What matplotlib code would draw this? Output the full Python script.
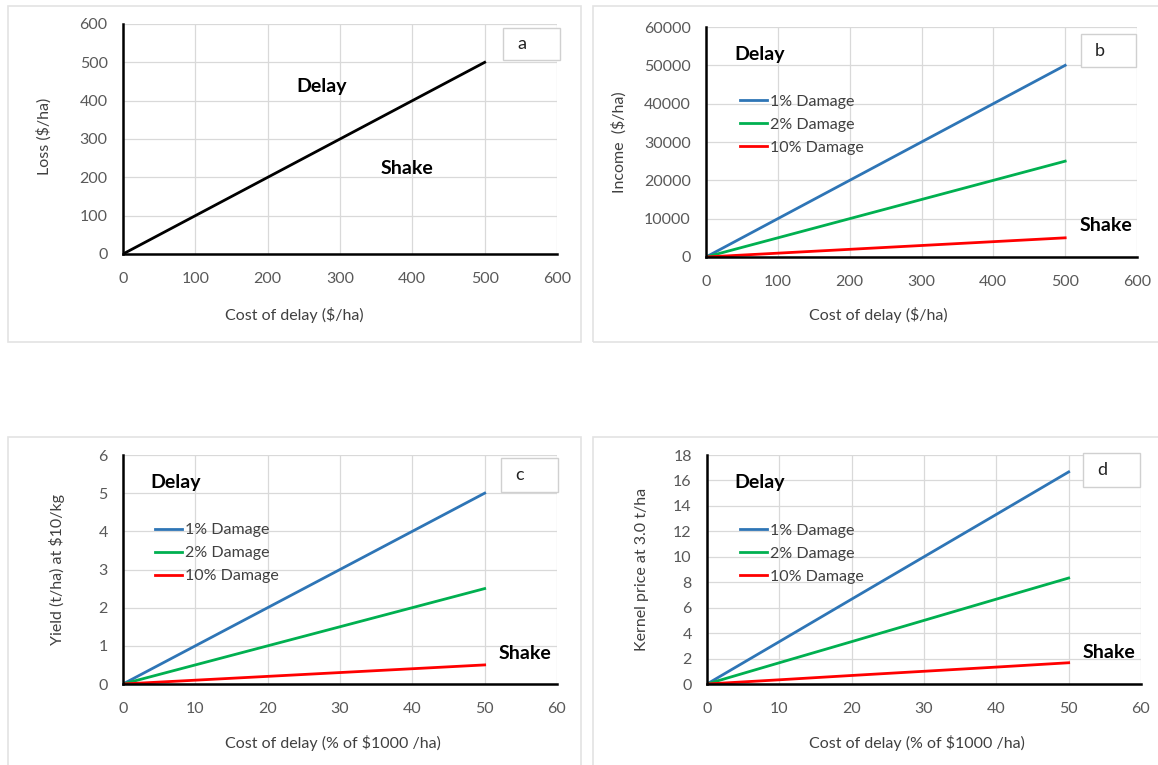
import matplotlib.pyplot as plt
from matplotlib.patches import Rectangle

plt.rcParams['font.family'] = ['Lato', 'DejaVu Sans']

# data
cost_ha = [0, 100, 200, 300, 400, 500]
loss_ha = [0, 100, 200, 300, 400, 500]

income_1 = [0, 10000, 20000, 30000, 40000, 50000]
income_2 = [0, 5000, 10000, 15000, 20000, 25000]
income_10 = [0, 1000, 2000, 3000, 4000, 5000]

cost_pct = [0, 10, 20, 30, 40, 50]
yield_1 = [0, 1.0, 2.0, 3.0, 4.0, 5.0]
yield_2 = [0, 0.5, 1.0, 1.5, 2.0, 2.5]
yield_10 = [0, 0.1, 0.2, 0.3, 0.4, 0.5]

kernel_1 = [0, 3.33, 6.67, 10.0, 13.33, 16.67]
kernel_2 = [0, 1.67, 3.33, 5.0, 6.67, 8.33]
kernel_10 = [0, 0.33, 0.67, 1.0, 1.33, 1.67]

damage_labels = ['1% Damage', '2% Damage', '10% Damage']
colors = ['#2E75B6', '#00B050', '#FF0000']

W, H = 1158, 765
fig = plt.figure(figsize=(W / 100, H / 100), dpi=100)

# chart area frames (pixel boxes: x0, y0, x1, y1)
for x0, y0, x1, y1 in [(8, 6, 581, 342), (593, 6, 1160, 342),
                       (8, 437, 581, 770), (593, 437, 1160, 770)]:
    fig.patches.append(Rectangle((x0 / W, 1 - y1 / H), (x1 - x0) / W, (y1 - y0) / H,
                                 transform=fig.transFigure, fill=False,
                                 edgecolor='#E3E3E3', linewidth=1.2))

TICK_FS = 11.5
LABEL_FS = 11.5
NOTE_FS = 14


def make_axes(px_left, px_right, px_top, px_bottom):
    ax = fig.add_axes([px_left / W, 1 - px_bottom / H,
                       (px_right - px_left) / W, (px_bottom - px_top) / H])
    ax.grid(True, color='#D9D9D9', linewidth=0.9)
    ax.set_axisbelow(True)
    for s in ['top', 'right']:
        ax.spines[s].set_visible(False)
    for s in ['left', 'bottom']:
        ax.spines[s].set_linewidth(1.8)
        ax.spines[s].set_color('black')
    ax.tick_params(axis='x', length=0, labelsize=TICK_FS, labelcolor='#595959', pad=13)
    ax.tick_params(axis='y', length=0, labelsize=TICK_FS, labelcolor='#595959', pad=11)
    return ax


def axis_titles(ax, xlabel, ylabel, xlab_pos, ylab_pos):
    ax.set_xlabel(xlabel, fontsize=LABEL_FS, color='#404040', va='center')
    ax.set_ylabel(ylabel, fontsize=LABEL_FS, color='#404040', va='center')
    ax.xaxis.set_label_coords(*xlab_pos)
    ax.yaxis.set_label_coords(*ylab_pos)


def panel_tag(ax, letter, x0, y0, x1, y1):
    ax.add_artist(Rectangle((x0 / W, 1 - y1 / H), (x1 - x0) / W, (y1 - y0) / H,
                            transform=fig.transFigure, facecolor='white',
                            edgecolor='#D0D0D0', linewidth=1, clip_on=False, zorder=5))
    ax.text((x0 + 14) / W, 1 - (y0 + y1) / 2 / H, letter, transform=fig.transFigure,
            fontsize=13, va='center', ha='left', color='#222222', zorder=6)


def add_legend(ax, handles, x, y):
    ax.legend(handles=handles, labels=damage_labels, loc='upper left',
              bbox_to_anchor=(x, y), frameon=False, fontsize=11.5,
              handlelength=1.7, handletextpad=0.15, labelspacing=0.55,
              borderpad=0, borderaxespad=0, labelcolor='#404040')


# ---- a
ax = make_axes(123, 557, 24, 254)
ax.plot(cost_ha, loss_ha, color='black', linewidth=2)
ax.set_xlim(0, 600)
ax.set_ylim(0, 600)
ax.set_xticks(range(0, 601, 100))
ax.set_yticks(range(0, 601, 100))
axis_titles(ax, 'Cost of delay ($/ha)', 'Loss ($/ha)', (0.394, -0.265), (-0.182, 0.51))
ax.text(274, 438, 'Delay', fontsize=NOTE_FS, fontweight='bold', ha='center', va='center')
ax.text(393, 222, 'Shake', fontsize=NOTE_FS, fontweight='bold', ha='center', va='center')
panel_tag(ax, 'a', 503, 28, 560, 60)

# ---- b
ax = make_axes(706, 1137, 27, 257)
h = []
for ys, c in zip([income_1, income_2, income_10], colors):
    h += ax.plot(cost_ha, ys, color=c, linewidth=2)
ax.set_xlim(0, 600)
ax.set_ylim(0, 60000)
ax.set_xticks(range(0, 601, 100))
ax.set_yticks(range(0, 60001, 10000))
axis_titles(ax, 'Cost of delay ($/ha)', 'Income  ($/ha)', (0.40, -0.252), (-0.202, 0.5))
ax.text(75, 52900, 'Delay', fontsize=NOTE_FS, fontweight='bold', ha='center', va='center')
ax.text(557, 8100, 'Shake', fontsize=NOTE_FS, fontweight='bold', ha='center', va='center')
add_legend(ax, h, 0.079, 0.705)
panel_tag(ax, 'b', 1081, 34, 1136, 67)

# ---- c
ax = make_axes(123, 557, 455, 684)
h = []
for ys, c in zip([yield_1, yield_2, yield_10], colors):
    h += ax.plot(cost_pct, ys, color=c, linewidth=2)
ax.set_xlim(0, 60)
ax.set_ylim(0, 6)
ax.set_xticks(range(0, 61, 10))
ax.set_yticks(range(0, 7))
axis_titles(ax, 'Cost of delay (% of $1000 /ha)', 'Yield (t/ha) at $10/kg',
            (0.484, -0.258), (-0.152, 0.5))
ax.text(7.3, 5.27, 'Delay', fontsize=NOTE_FS, fontweight='bold', ha='center', va='center')
ax.text(55.6, 0.81, 'Shake', fontsize=NOTE_FS, fontweight='bold', ha='center', va='center')
add_legend(ax, h, 0.074, 0.703)
panel_tag(ax, 'c', 501, 458, 558, 492)

# ---- d
ax = make_axes(707, 1141, 455, 684)
h = []
for ys, c in zip([kernel_1, kernel_2, kernel_10], colors):
    h += ax.plot(cost_pct, ys, color=c, linewidth=2)
ax.set_xlim(0, 60)
ax.set_ylim(0, 18)
ax.set_xticks(range(0, 61, 10))
ax.set_yticks(range(0, 19, 2))
axis_titles(ax, 'Cost of delay (% of $1000 /ha)', 'Kernel price at 3.0 t/ha',
            (0.484, -0.258), (-0.150, 0.5))
ax.text(7.3, 15.8, 'Delay', fontsize=NOTE_FS, fontweight='bold', ha='center', va='center')
ax.text(55.6, 2.44, 'Shake', fontsize=NOTE_FS, fontweight='bold', ha='center', va='center')
add_legend(ax, h, 0.076, 0.70)
panel_tag(ax, 'd', 1083, 453, 1140, 487)

fig.savefig('out.png', dpi=100)
